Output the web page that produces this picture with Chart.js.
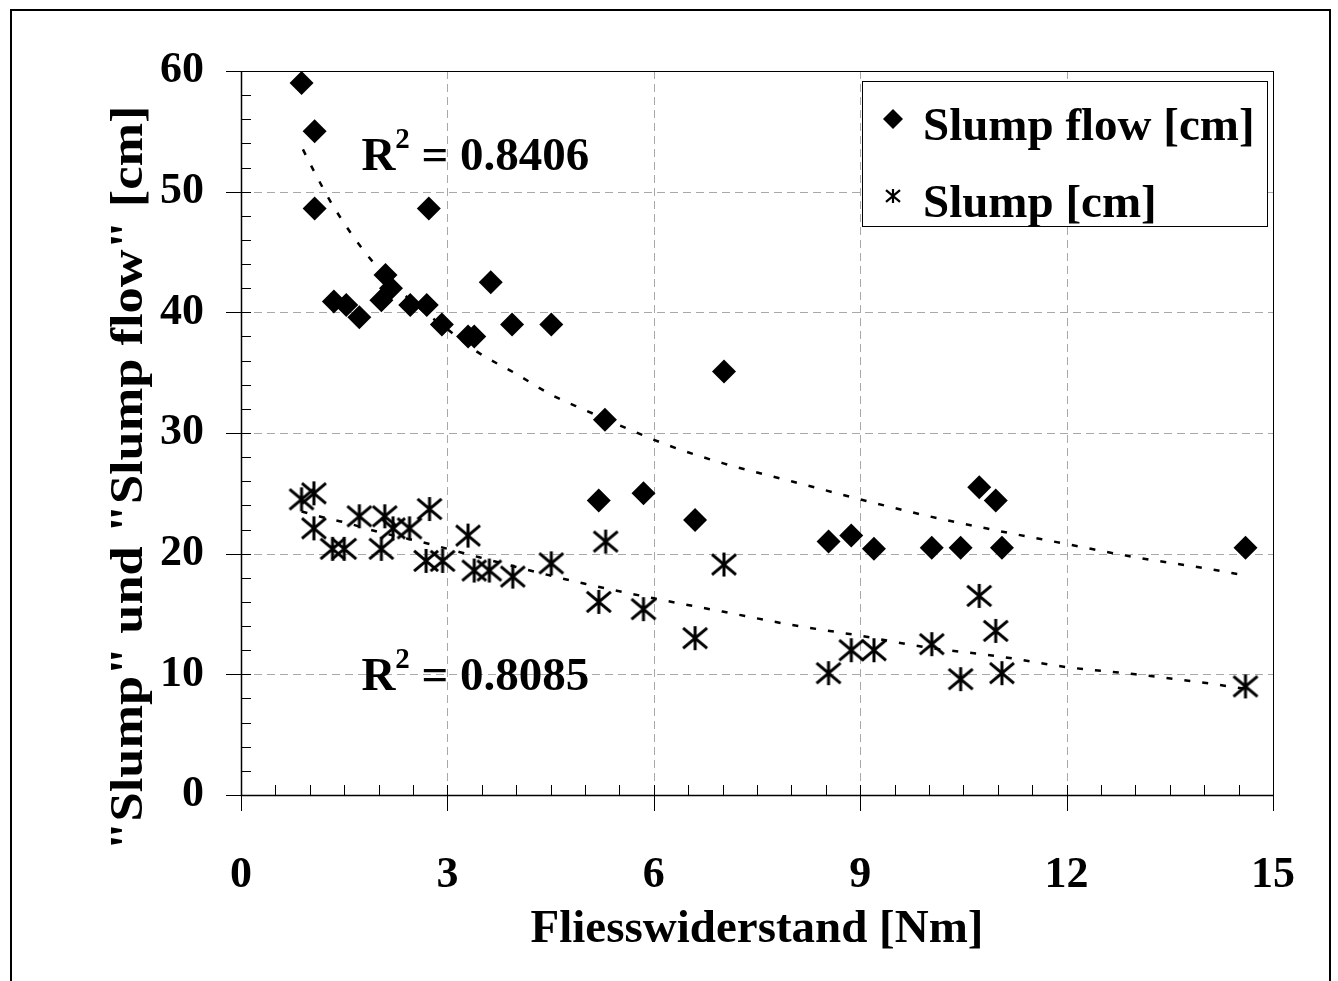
<!DOCTYPE html>
<html>
<head>
<meta charset="utf-8">
<script src="https://cdn.jsdelivr.net/npm/chart.js@4.4.1/dist/chart.umd.min.js"></script>
<style>
  html, body { margin: 0; padding: 0; background: #fff; }
  #wrap { position: relative; width: 1338px; height: 981px; overflow: hidden; }
  #frame { position: absolute; left: 10px; top: 9px; width: 1317px; height: 1000px; border: 2px solid #000; }
  #chart { position: absolute; left: 0; top: 0; }
</style>
</head>
<body>
<div id="wrap">
  <div id="frame"></div>
  <canvas id="chart" width="1338" height="981"></canvas>
</div>
<script>
// Slump flow [cm] (Rauten) und Slump [cm] (Sterne) gegen Fliesswiderstand [Nm]
const flowX = [0.88, 1.07, 1.07, 2.73, 1.35, 1.53, 1.72, 2.04, 2.10, 2.18, 2.46, 2.70, 2.92, 3.30, 3.39, 3.63, 3.94, 4.51, 5.29, 7.02, 5.20, 5.85, 6.60, 8.54, 8.87, 9.20, 10.04, 10.46, 10.73, 10.97, 11.06, 14.60];
const flowY = [59.0, 55.0, 48.6, 48.6, 40.9, 40.6, 39.6, 41.0, 43.1, 42.0, 40.6, 40.6, 39.0, 38.0, 38.0, 42.5, 39.0, 39.0, 31.1, 35.1, 24.4, 25.0, 22.8, 21.0, 21.5, 20.4, 20.5, 20.5, 25.5, 24.4, 20.5, 20.5];

const slumpX = [0.88, 1.06, 1.06, 1.33, 1.50, 1.72, 2.04, 2.09, 2.21, 2.45, 2.74, 2.69, 2.93, 3.30, 3.39, 3.61, 3.95, 4.51, 5.20, 5.30, 5.85, 6.60, 7.02, 8.54, 8.87, 9.20, 10.04, 10.46, 10.73, 10.97, 11.06, 14.60];
const slumpY = [24.5, 25.0, 22.1, 20.4, 20.4, 23.1, 20.4, 23.1, 22.1, 22.1, 23.7, 19.4, 19.4, 21.5, 18.6, 18.6, 18.1, 19.2, 16.0, 21.0, 15.4, 13.0, 19.1, 10.1, 12.0, 12.0, 12.5, 9.6, 16.5, 13.6, 10.1, 9.0];

// Trendlinien
const flowTrendX = [0.9, 1.07, 1.34, 1.87, 2.5, 3.0, 3.44, 4.0, 4.5, 5.0, 5.6, 6.2, 7.0, 8.0, 9.0, 10.0, 11.0, 12.0, 13.0, 14.0, 14.6];
const flowTrendY = [53.5, 51.6, 48.8, 44.5, 40.8, 38.6, 36.7, 34.9, 33.2, 31.9, 30.4, 29.0, 27.5, 26.0, 24.5, 23.1, 21.9, 20.8, 19.7, 18.8, 18.2];
const slumpTrendX = [0.88, 1.2, 1.5, 2.0, 2.6, 3.2, 4.0, 5.0, 6.0, 7.0, 8.0, 9.0, 10.0, 11.0, 12.0, 13.0, 14.0, 14.6];
const slumpTrendY = [23.5, 23.0, 22.6, 21.8, 21.0, 20.1, 18.9, 17.5, 16.3, 15.2, 14.1, 13.2, 12.2, 11.5, 10.6, 10.0, 9.3, 8.8];

const r2Text = ['0.8406', '0.8085'];
const r2X = [1.75, 1.75];
const r2Y = [51.8, 8.7];

const xTicks = [0, 3, 6, 9, 12, 15];
const yTicks = [0, 10, 20, 30, 40, 50, 60];
const xMinorStep = 0.5;
const yMinorStep = 2;

const seriesLabels = ['Slump flow [cm]', 'Slump [cm]'];
const xTitle = 'Fliesswiderstand [Nm]';
const yTitle = '"Slump" und "Slump flow" [cm]';

const FONT = '"Liberation Serif", "DejaVu Serif", serif';

const toPts = (xs, ys) => xs.map((v, i) => ({ x: v, y: ys[i] }));

function drawStar(g, cx, cy, s, lw) {
    g.save();
    g.strokeStyle = '#000';
    g.lineWidth = lw;
    g.lineCap = 'butt';
    g.beginPath();
    g.moveTo(cx - s, cy - s * 0.85); g.lineTo(cx + s, cy + s * 0.85);
    g.moveTo(cx + s, cy - s * 0.85); g.lineTo(cx - s, cy + s * 0.85);
    g.moveTo(cx, cy - s); g.lineTo(cx, cy + s);
    g.stroke();
    g.restore();
}

const starImg = document.createElement('canvas');
starImg.width = 28; starImg.height = 28;
drawStar(starImg.getContext('2d'), 14, 14, 12, 3);

const decor = {
    id: 'decor',
    beforeDatasetsDraw(chart) {
        const { ctx, chartArea: a, scales: { x, y } } = chart;
        ctx.save();
        // gestrichelte Gitterlinien
        ctx.strokeStyle = '#a8a8a8';
        ctx.lineWidth = 1;
        ctx.setLineDash([8, 5]);
        ctx.beginPath();
        xTicks.slice(1, -1).forEach(v => {
            const px = Math.round(x.getPixelForValue(v)) + 0.5;
            ctx.moveTo(px, a.top); ctx.lineTo(px, a.bottom);
        });
        yTicks.slice(1, -1).forEach(v => {
            const py = Math.round(y.getPixelForValue(v)) + 0.5;
            ctx.moveTo(a.left, py); ctx.lineTo(a.right, py);
        });
        ctx.stroke();
        ctx.setLineDash([]);

        // Rahmen der Zeichenflaeche
        ctx.strokeStyle = '#000';
        ctx.lineWidth = 1;
        ctx.strokeRect(a.left + 0.5, a.top + 0.5, a.right - a.left, a.bottom - a.top);
        ctx.lineWidth = 1.5;
        ctx.beginPath();
        ctx.moveTo(a.left + 0.5, a.top); ctx.lineTo(a.left + 0.5, a.bottom + 0.5);
        ctx.lineTo(a.right, a.bottom + 0.5);
        ctx.stroke();

        // Teilstriche
        ctx.lineWidth = 1;
        ctx.beginPath();
        for (let v = xTicks[0]; v <= xTicks[xTicks.length - 1] + 1e-9; v += xMinorStep) {
            const px = Math.round(x.getPixelForValue(v)) + 0.5;
            const major = xTicks.includes(Math.round(v * 100) / 100);
            ctx.moveTo(px, a.bottom - 10);
            ctx.lineTo(px, a.bottom + (major ? 16 : 0));
        }
        for (let v = yTicks[0]; v <= yTicks[yTicks.length - 1] + 1e-9; v += yMinorStep) {
            const py = Math.round(y.getPixelForValue(v)) + 0.5;
            const major = yTicks.includes(v);
            ctx.moveTo(a.left + 10, py);
            ctx.lineTo(a.left - (major ? 15 : 0), py);
        }
        ctx.stroke();
        ctx.restore();
    },
    afterDatasetsDraw(chart) {
        const { ctx, chartArea: a, scales: { x, y } } = chart;
        ctx.save();
        ctx.fillStyle = '#000';
        ctx.textBaseline = 'alphabetic';
        ctx.textAlign = 'left';

        // R^2 Beschriftungen
        r2Text.forEach((t, i) => {
            const px = x.getPixelForValue(r2X[i]);
            const py = y.getPixelForValue(r2Y[i]);
            ctx.font = 'bold 47px ' + FONT;
            ctx.fillText('R', px, py);
            const w1 = ctx.measureText('R').width;
            ctx.font = 'bold 29px ' + FONT;
            ctx.fillText('2', px + w1, py - 22);
            const w2 = ctx.measureText('2').width;
            ctx.font = 'bold 47px ' + FONT;
            ctx.fillText(' = ' + t, px + w1 + w2, py);
        });

        // Legende
        const lx = 862.5, ly = 81.5, lw = 405, lh = 145;
        ctx.fillStyle = '#fff';
        ctx.fillRect(lx, ly, lw, lh);
        ctx.strokeStyle = '#000';
        ctx.lineWidth = 1;
        ctx.strokeRect(lx, ly, lw, lh);
        ctx.fillStyle = '#000';
        ctx.beginPath();
        ctx.moveTo(893, 109); ctx.lineTo(903, 119); ctx.lineTo(893, 129); ctx.lineTo(883, 119);
        ctx.closePath();
        ctx.fill();
        drawStar(ctx, 893, 196, 7, 2.2);
        ctx.font = 'bold 47px ' + FONT;
        ctx.fillText(seriesLabels[0], 923, 140);
        ctx.fillText(seriesLabels[1], 923, 217);

        // Achsentitel
        ctx.font = 'bold 47px ' + FONT;
        ctx.textAlign = 'center';
        ctx.fillText(xTitle, (a.left + a.right) / 2, 942);
        ctx.save();
        ctx.translate(142, 478);
        ctx.rotate(-Math.PI / 2);
        const tw = ctx.measureText(yTitle).width;
        ctx.scale(745 / tw, 1);
        ctx.fillText(yTitle, 0, 0);
        ctx.restore();
        ctx.restore();
    }
};

const ctx = document.getElementById('chart').getContext('2d');
new Chart(ctx, {
    type: 'scatter',
    data: {
        datasets: [
            {
                label: seriesLabels[0],
                data: toPts(flowX, flowY),
                pointStyle: 'rectRot',
                pointRadius: 12,
                pointBackgroundColor: '#000',
                pointBorderWidth: 0,
                borderColor: '#000'
            },
            {
                label: seriesLabels[1],
                data: toPts(slumpX, slumpY),
                pointStyle: starImg,
                pointRadius: 12
            },
            {
                label: 'Trend Slump flow',
                data: toPts(flowTrendX, flowTrendY),
                showLine: true,
                pointRadius: 0,
                borderColor: '#000',
                borderWidth: 2.5,
                borderDash: [6, 12],
                cubicInterpolationMode: 'monotone'
            },
            {
                label: 'Trend Slump',
                data: toPts(slumpTrendX, slumpTrendY),
                showLine: true,
                pointRadius: 0,
                borderColor: '#000',
                borderWidth: 2.5,
                borderDash: [6, 12],
                cubicInterpolationMode: 'monotone'
            }
        ]
    },
    options: {
        responsive: false,
        animation: false,
        layout: { padding: { left: 0, top: 71, right: 65, bottom: 0 } },
        plugins: { legend: { display: false }, tooltip: { enabled: false } },
        scales: {
            x: {
                type: 'linear',
                min: 0, max: 15,
                afterFit: s => { s.height = 186; s.paddingLeft = 0; s.paddingRight = 0; },
                afterBuildTicks: s => { s.ticks = xTicks.map(v => ({ value: v })); },
                grid: { display: false },
                border: { display: false },
                ticks: { color: '#000', font: { family: FONT, size: 44, weight: 'bold' }, padding: 46, maxRotation: 0 }
            },
            y: {
                type: 'linear',
                min: 0, max: 60,
                afterFit: s => { s.width = 241; s.paddingTop = 0; s.paddingBottom = 0; },
                afterBuildTicks: s => { s.ticks = yTicks.map(v => ({ value: v })); },
                grid: { display: false },
                border: { display: false },
                ticks: { color: '#000', font: { family: FONT, size: 44, weight: 'bold' }, padding: 29 }
            }
        }
    },
    plugins: [decor]
});
</script>
</body>
</html>
